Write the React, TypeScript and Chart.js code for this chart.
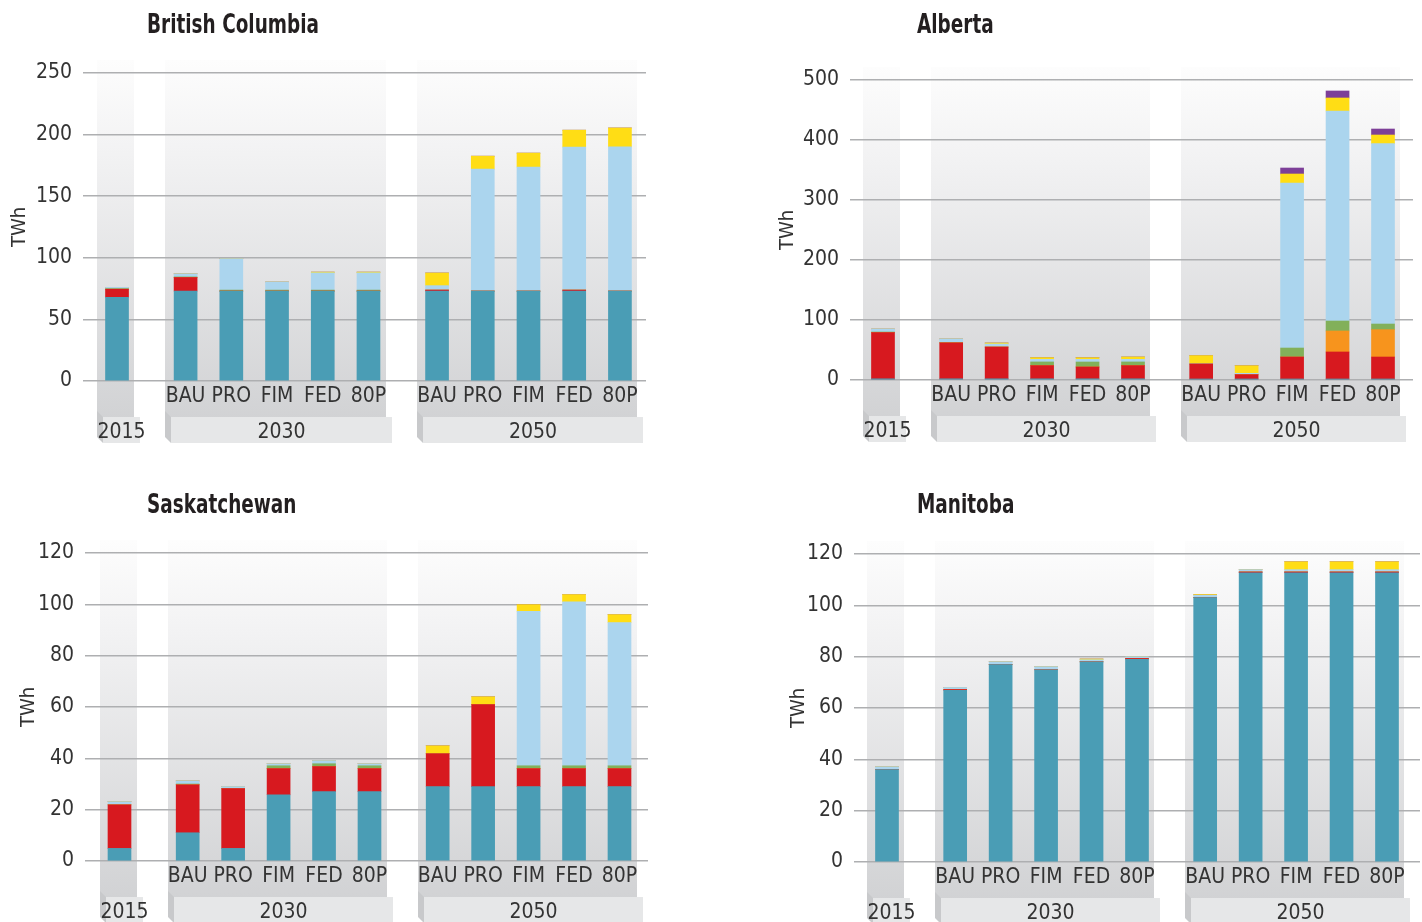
import React, { useEffect, useRef } from 'react';
import { Chart, registerables } from 'chart.js';

Chart.register(...registerables);

// ---- categories / ticks ----
const X_POSITIONS = [0, 1.5, 2.5, 3.5, 4.5, 5.5, 7, 8, 9, 10, 11];
const SCENARIO_LABELS = ['', 'BAU', 'PRO', 'FIM', 'FED', '80P', 'BAU', 'PRO', 'FIM', 'FED', '80P'];
const YEAR_GROUPS = [
  { label: '2015', from: 0, to: 0 },
  { label: '2030', from: 1, to: 5 },
  { label: '2050', from: 6, to: 10 },
];
const SERIES_NAMES = ['Hydro', 'Natural gas', 'Natural gas CCS', 'Biomass', 'Wind', 'Solar', 'Other'];
const SERIES_COLORS = ['#4a9db5', '#d7191f', '#f7941d', '#82b05a', '#abd5ee', '#ffdd15', '#7d3f98'];

// ---- British Columbia (TWh) ----
const BC_HYDRO = [68, 73, 73, 73, 73, 73, 73, 73, 73, 73, 73];
const BC_GAS = [6.5, 11, 0, 0, 0, 0, 0.8, 0, 0, 0.8, 0];
const BC_CCS = [0, 0, 0, 0, 0, 0, 0, 0, 0, 0, 0];
const BC_BIOMASS = [0.5, 0.5, 0.8, 0.8, 0.8, 0.8, 0, 0, 0, 0, 0];
const BC_WIND = [1, 2.5, 25.5, 6.6, 14, 14, 3.6, 99, 100.7, 116, 117];
const BC_SOLAR = [0, 0, 0, 0, 0.6, 0.6, 10.3, 10.5, 11.3, 13.8, 15.4];
const BC_OTHER = [0, 0, 0, 0, 0, 0, 0, 0, 0, 0, 0];

// ---- Alberta (TWh) ----
const AB_HYDRO = [2, 2, 2, 2, 2, 2, 1.7, 1.7, 1.7, 1.7, 1.7];
const AB_GAS = [77, 60, 53, 22, 19.7, 22, 25, 7.2, 36.6, 45, 36.6];
const AB_CCS = [0, 0, 0, 0, 0, 0, 0, 0, 0, 35, 45.6];
const AB_BIOMASS = [1, 0.5, 0, 6.1, 8.3, 6.1, 0, 0, 15, 16.6, 9.4];
const AB_WIND = [5, 6, 5, 4.4, 4.4, 4.4, 1, 2.2, 275, 350, 300.6];
const AB_SOLAR = [0, 0, 1.7, 2.8, 2.8, 3.9, 13, 12.8, 15, 21.7, 14.4];
const AB_OTHER = [0, 0, 0, 0, 0, 0, 0, 0, 10, 11.7, 10];

// ---- Saskatchewan (TWh) ----
const SK_HYDRO = [4.9, 11, 4.9, 25.8, 27, 27, 29, 29, 29, 29, 29];
const SK_GAS = [17, 18.7, 23.3, 10.2, 9.8, 9, 12.8, 31.9, 7, 7, 7];
const SK_CCS = [0, 0, 0, 0, 0, 0, 0, 0, 0, 0, 0];
const SK_BIOMASS = [0, 0.3, 0, 1.1, 1.1, 1.1, 0, 0, 1.1, 1.1, 1.1];
const SK_WIND = [1.2, 1.2, 0.8, 0.8, 1.2, 0.8, 0, 0, 60.2, 63.9, 55.8];
const SK_SOLAR = [0, 0, 0, 0, 0, 0, 3.1, 3.1, 2.6, 2.8, 3.1];
const SK_OTHER = [0, 0, 0, 0, 0, 0, 0, 0, 0, 0, 0];

// ---- Manitoba (TWh) ----
const MB_HYDRO = [36, 66.9, 76.9, 74.9, 78, 79, 103, 112.7, 112.7, 112.7, 112.7];
const MB_GAS = [0, 0.3, 0, 0, 0, 0.3, 0, 0.3, 0.3, 0.3, 0.3];
const MB_CCS = [0, 0, 0, 0, 0, 0, 0, 0, 0, 0, 0];
const MB_BIOMASS = [0, 0, 0, 0, 0, 0, 0, 0, 0, 0, 0];
const MB_WIND = [1.1, 0.8, 1.1, 1.2, 0.8, 0.7, 0.9, 0.9, 0.9, 0.9, 0.9];
const MB_SOLAR = [0, 0, 0, 0, 0.3, 0, 0.3, 0, 3.1, 3.1, 3.1];
const MB_OTHER = [0, 0, 0, 0, 0, 0, 0, 0, 0, 0, 0];

const FONT = '"DejaVu Sans Condensed", "Liberation Sans Narrow", sans-serif';
const TITLE_FONT = 'bold 25px "DejaVu Sans Condensed", sans-serif';
const TEXT_COLOR = '#333333';

type Panel = {
  title: string;
  titleX: number;
  titleY: number;
  left: number;
  top: number;
  width: number;
  height: number;
  area: { l: number; r: number; t: number; b: number };
  xMin: number;
  xMax: number;
  yMax: number;
  yStep: number;
  twhX: number;
  series: number[][];
};

const PANELS: Panel[] = [
  {
    title: 'British Columbia', titleX: 147, titleY: 33,
    left: 0, top: 0, width: 711, height: 461,
    area: { l: 83, r: 646, t: 73, b: 381 },
    xMin: -0.744, xMax: 11.57, yMax: 250, yStep: 50, twhX: 20,
    series: [BC_HYDRO, BC_GAS, BC_CCS, BC_BIOMASS, BC_WIND, BC_SOLAR, BC_OTHER],
  },
  {
    title: 'Alberta', titleX: 206, titleY: 33,
    left: 711, top: 0, width: 711, height: 461,
    area: { l: 139, r: 702, t: 80, b: 380 },
    xMin: -0.726, xMax: 11.66, yMax: 500, yStep: 100, twhX: 77,
    series: [AB_HYDRO, AB_GAS, AB_CCS, AB_BIOMASS, AB_WIND, AB_SOLAR, AB_OTHER],
  },
  {
    title: 'Saskatchewan', titleX: 147, titleY: 52,
    left: 0, top: 461, width: 711, height: 461,
    area: { l: 85, r: 648, t: 92, b: 400 },
    xMin: -0.759, xMax: 11.627, yMax: 120, yStep: 20, twhX: 29,
    series: [SK_HYDRO, SK_GAS, SK_CCS, SK_BIOMASS, SK_WIND, SK_SOLAR, SK_OTHER],
  },
  {
    title: 'Manitoba', titleX: 206, titleY: 52,
    left: 711, top: 461, width: 711, height: 461,
    area: { l: 143, r: 709, t: 93, b: 401 },
    xMin: -0.726, xMax: 11.726, yMax: 120, yStep: 20, twhX: 88,
    series: [MB_HYDRO, MB_GAS, MB_CCS, MB_BIOMASS, MB_WIND, MB_SOLAR, MB_OTHER],
  },
];

function makeDecor(panel: Panel) {
  return {
    id: 'decor',
    beforeDraw(chart: any) {
      const { ctx } = chart;
      const xs = chart.scales.x;
      const ys = chart.scales.y;
      const zero = ys.getPixelForValue(0);
      const colTop = chart.chartArea.top - 13;
      const colBottom = zero + 56;
      ctx.save();
      const grad = ctx.createLinearGradient(0, colTop, 0, colBottom);
      grad.addColorStop(0, '#fdfdfd');
      grad.addColorStop(0.25, '#f2f2f3');
      grad.addColorStop(1, '#cfd0d2');
      YEAR_GROUPS.forEach((g) => {
        const l = Math.round(xs.getPixelForValue(X_POSITIONS[g.from] - 0.44));
        const r = Math.round(xs.getPixelForValue(X_POSITIONS[g.to] + 0.38));
        ctx.fillStyle = grad;
        ctx.fillRect(l, colTop, r - l, colBottom - colTop);
        // bevel
        ctx.fillStyle = '#c8c9cb';
        ctx.beginPath();
        ctx.moveTo(l, zero + 30);
        ctx.lineTo(l + 6, zero + 36);
        ctx.lineTo(l + 6, zero + 62);
        ctx.lineTo(l, zero + 56);
        ctx.closePath();
        ctx.fill();
        // box
        ctx.fillStyle = '#e6e7e8';
        ctx.fillRect(l + 6, zero + 36, r - l, 26);
        ctx.fillStyle = TEXT_COLOR;
        ctx.font = `21px ${FONT}`;
        ctx.textAlign = 'center';
        ctx.textBaseline = 'middle';
        ctx.fillText(g.label, l + 6 + (r - l) / 2, zero + 52);
      });
      // panel title (condensed by horizontal scaling)
      ctx.fillStyle = '#231f20';
      ctx.font = TITLE_FONT;
      ctx.textAlign = 'left';
      ctx.textBaseline = 'alphabetic';
      ctx.translate(panel.titleX, panel.titleY);
      ctx.scale(0.82, 1.05);
      ctx.fillText(panel.title, 0, 0);
      ctx.restore();
    },
  };
}

function ProvinceChart({ panel }: { panel: Panel }) {
  const ref = useRef<HTMLCanvasElement | null>(null);
  useEffect(() => {
    if (!ref.current) return;
    const datasets = SERIES_NAMES.map((name, i) => ({
      label: name,
      data: X_POSITIONS.map((x, j) => ({ x, y: panel.series[i][j] })),
      backgroundColor: SERIES_COLORS[i],
      borderWidth: 0,
      barThickness: 23,
    }));
    const titleLine = 24;
    const chart = new Chart(ref.current, {
      type: 'bar',
      data: { datasets },
      plugins: [makeDecor(panel)],
      options: {
        responsive: false,
        animation: false,
        devicePixelRatio: 1,
        layout: {
          padding: {
            left: 0,
            top: panel.area.t,
            right: panel.width - panel.area.r,
            bottom: 0,
          },
        },
        plugins: {
          legend: { display: false },
          title: { display: false },
          tooltip: { enabled: false },
        },
        scales: {
          x: {
            type: 'linear',
            stacked: true,
            offset: false,
            min: panel.xMin,
            max: panel.xMax,
            grid: { display: false, drawTicks: false },
            border: { display: false },
            afterBuildTicks: (axis: any) => {
              axis.ticks = X_POSITIONS.map((v) => ({ value: v }));
            },
            afterFit: (axis: any) => {
              axis.height = panel.height - panel.area.b;
            },
            ticks: {
              autoSkip: false,
              maxRotation: 0,
              minRotation: 0,
              padding: 3,
              color: TEXT_COLOR,
              font: { family: FONT, size: 21 },
              callback: (_v: any, index: number) => SCENARIO_LABELS[index] ?? '',
            },
          },
          y: {
            stacked: true,
            min: 0,
            max: panel.yMax,
            grid: { color: '#aeafb1', lineWidth: 1.5, drawTicks: false },
            border: { display: false },
            afterFit: (axis: any) => {
              axis.width = panel.area.l;
            },
            ticks: {
              stepSize: panel.yStep,
              padding: 11,
              color: TEXT_COLOR,
              font: { family: FONT, size: 21 },
            },
            title: {
              display: true,
              text: 'TWh',
              color: TEXT_COLOR,
              font: { family: FONT, size: 20, lineHeight: 1.2 },
              padding: { top: panel.twhX - titleLine / 2, bottom: 0 },
            },
          },
        },
      } as any,
    });
    return () => chart.destroy();
  }, [panel]);
  return (
    <canvas
      ref={ref}
      width={panel.width}
      height={panel.height}
      style={{ position: 'absolute', left: panel.left, top: panel.top, width: panel.width, height: panel.height }}
    />
  );
}

export default function App() {
  return (
    <div style={{ position: 'absolute', left: 0, top: 0, width: 1422, height: 922, background: '#ffffff', overflow: 'hidden' }}>
      {PANELS.map((p) => (
        <ProvinceChart key={p.title} panel={p} />
      ))}
    </div>
  );
}
